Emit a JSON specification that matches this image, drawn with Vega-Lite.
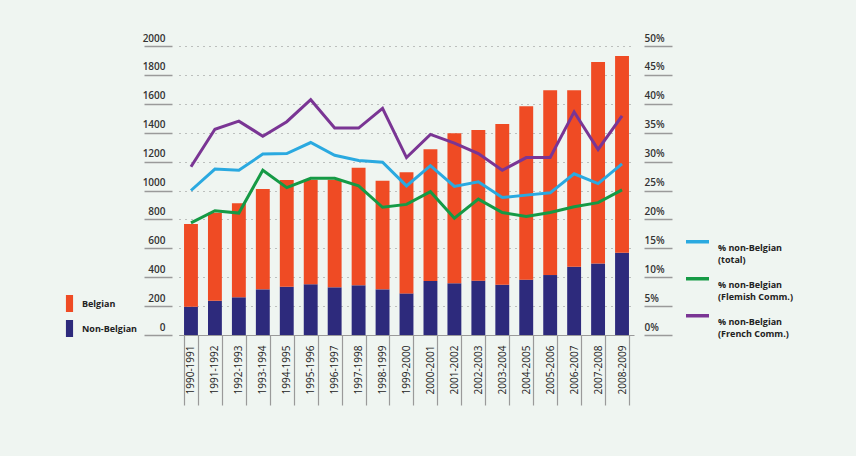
{
  "$schema": "https://vega.github.io/schema/vega-lite/v6.json",
  "width": 455,
  "height": 289,
  "autosize": {"type": "none"},
  "padding": {"left": 179, "right": 222, "top": 46, "bottom": 121},
  "background": "#eff5f1",
  "config": {
    "view": {"stroke": null},
    "font": "Open Sans",
    "axis": {"labelFont": "Open Sans", "labelColor": "#333333", "labelFontWeight": 600, "labelFontSize": 10},
    "legend": {"labelFont": "Open Sans", "labelColor": "#222222", "labelFontWeight": 700, "labelFontSize": 9, "padding": 0}
  },
  "datasets": {
    "bars": [
      {"period": "1990-1991", "nat": "Non-Belgian", "count": 196}, {"period": "1990-1991", "nat": "Belgian", "count": 572},
      {"period": "1991-1992", "nat": "Non-Belgian", "count": 237}, {"period": "1991-1992", "nat": "Belgian", "count": 609},
      {"period": "1992-1993", "nat": "Non-Belgian", "count": 261}, {"period": "1992-1993", "nat": "Belgian", "count": 650},
      {"period": "1993-1994", "nat": "Non-Belgian", "count": 316}, {"period": "1993-1994", "nat": "Belgian", "count": 694},
      {"period": "1994-1995", "nat": "Non-Belgian", "count": 334}, {"period": "1994-1995", "nat": "Belgian", "count": 739},
      {"period": "1995-1996", "nat": "Non-Belgian", "count": 351}, {"period": "1995-1996", "nat": "Belgian", "count": 724},
      {"period": "1996-1997", "nat": "Non-Belgian", "count": 330}, {"period": "1996-1997", "nat": "Belgian", "count": 745},
      {"period": "1997-1998", "nat": "Non-Belgian", "count": 344}, {"period": "1997-1998", "nat": "Belgian", "count": 814},
      {"period": "1998-1999", "nat": "Non-Belgian", "count": 316}, {"period": "1998-1999", "nat": "Belgian", "count": 752},
      {"period": "1999-2000", "nat": "Non-Belgian", "count": 288}, {"period": "1999-2000", "nat": "Belgian", "count": 838},
      {"period": "2000-2001", "nat": "Non-Belgian", "count": 374}, {"period": "2000-2001", "nat": "Belgian", "count": 911},
      {"period": "2001-2002", "nat": "Non-Belgian", "count": 358}, {"period": "2001-2002", "nat": "Belgian", "count": 1038},
      {"period": "2002-2003", "nat": "Non-Belgian", "count": 376}, {"period": "2002-2003", "nat": "Belgian", "count": 1043},
      {"period": "2003-2004", "nat": "Non-Belgian", "count": 348}, {"period": "2003-2004", "nat": "Belgian", "count": 1112},
      {"period": "2004-2005", "nat": "Non-Belgian", "count": 383}, {"period": "2004-2005", "nat": "Belgian", "count": 1200},
      {"period": "2005-2006", "nat": "Non-Belgian", "count": 415}, {"period": "2005-2006", "nat": "Belgian", "count": 1278},
      {"period": "2006-2007", "nat": "Non-Belgian", "count": 473}, {"period": "2006-2007", "nat": "Belgian", "count": 1220},
      {"period": "2007-2008", "nat": "Non-Belgian", "count": 494}, {"period": "2007-2008", "nat": "Belgian", "count": 1395},
      {"period": "2008-2009", "nat": "Non-Belgian", "count": 570}, {"period": "2008-2009", "nat": "Belgian", "count": 1361}
    ],
    "lines": [
      {"period": "1990-1991", "series": "total", "pct": 0.250}, {"period": "1990-1991", "series": "flemish", "pct": 0.194}, {"period": "1990-1991", "series": "french", "pct": 0.291},
      {"period": "1991-1992", "series": "total", "pct": 0.287}, {"period": "1991-1992", "series": "flemish", "pct": 0.215}, {"period": "1991-1992", "series": "french", "pct": 0.356},
      {"period": "1992-1993", "series": "total", "pct": 0.285}, {"period": "1992-1993", "series": "flemish", "pct": 0.211}, {"period": "1992-1993", "series": "french", "pct": 0.370},
      {"period": "1993-1994", "series": "total", "pct": 0.313}, {"period": "1993-1994", "series": "flemish", "pct": 0.285}, {"period": "1993-1994", "series": "french", "pct": 0.344},
      {"period": "1994-1995", "series": "total", "pct": 0.314}, {"period": "1994-1995", "series": "flemish", "pct": 0.255}, {"period": "1994-1995", "series": "french", "pct": 0.369},
      {"period": "1995-1996", "series": "total", "pct": 0.333}, {"period": "1995-1996", "series": "flemish", "pct": 0.271}, {"period": "1995-1996", "series": "french", "pct": 0.407},
      {"period": "1996-1997", "series": "total", "pct": 0.311}, {"period": "1996-1997", "series": "flemish", "pct": 0.271}, {"period": "1996-1997", "series": "french", "pct": 0.358},
      {"period": "1997-1998", "series": "total", "pct": 0.302}, {"period": "1997-1998", "series": "flemish", "pct": 0.258}, {"period": "1997-1998", "series": "french", "pct": 0.358},
      {"period": "1998-1999", "series": "total", "pct": 0.299}, {"period": "1998-1999", "series": "flemish", "pct": 0.221}, {"period": "1998-1999", "series": "french", "pct": 0.392},
      {"period": "1999-2000", "series": "total", "pct": 0.258}, {"period": "1999-2000", "series": "flemish", "pct": 0.226}, {"period": "1999-2000", "series": "french", "pct": 0.307},
      {"period": "2000-2001", "series": "total", "pct": 0.293}, {"period": "2000-2001", "series": "flemish", "pct": 0.248}, {"period": "2000-2001", "series": "french", "pct": 0.347},
      {"period": "2001-2002", "series": "total", "pct": 0.257}, {"period": "2001-2002", "series": "flemish", "pct": 0.202}, {"period": "2001-2002", "series": "french", "pct": 0.332},
      {"period": "2002-2003", "series": "total", "pct": 0.265}, {"period": "2002-2003", "series": "flemish", "pct": 0.235}, {"period": "2002-2003", "series": "french", "pct": 0.314},
      {"period": "2003-2004", "series": "total", "pct": 0.238}, {"period": "2003-2004", "series": "flemish", "pct": 0.212}, {"period": "2003-2004", "series": "french", "pct": 0.285},
      {"period": "2004-2005", "series": "total", "pct": 0.242}, {"period": "2004-2005", "series": "flemish", "pct": 0.205}, {"period": "2004-2005", "series": "french", "pct": 0.307},
      {"period": "2005-2006", "series": "total", "pct": 0.246}, {"period": "2005-2006", "series": "flemish", "pct": 0.212}, {"period": "2005-2006", "series": "french", "pct": 0.307},
      {"period": "2006-2007", "series": "total", "pct": 0.279}, {"period": "2006-2007", "series": "flemish", "pct": 0.222}, {"period": "2006-2007", "series": "french", "pct": 0.386},
      {"period": "2007-2008", "series": "total", "pct": 0.262}, {"period": "2007-2008", "series": "flemish", "pct": 0.229}, {"period": "2007-2008", "series": "french", "pct": 0.321},
      {"period": "2008-2009", "series": "total", "pct": 0.296}, {"period": "2008-2009", "series": "flemish", "pct": 0.251}, {"period": "2008-2009", "series": "french", "pct": 0.379}
    ]
  },
  "encoding": {
    "x": {
      "field": "period", "type": "nominal",
      "scale": {"paddingInner": 0.42, "paddingOuter": 0.21},
      "axis": {
        "title": null, "labelAngle": -90, "tickBand": "extent", "tickSize": 70, "tickColor": "#9a9a9a", "tickWidth": 1.2,
        "domainColor": "#9a9a9a", "domainWidth": 1.2, "labelPadding": -60, "labelFontWeight": 400, "labelColor": "#222222", "labelFontSize": 10
      }
    }
  },
  "layer": [
    {
      "data": {"name": "bars"},
      "mark": {"type": "bar"},
      "encoding": {
        "y": {
          "field": "count", "type": "quantitative", "stack": "zero",
          "scale": {"domain": [0, 2000], "nice": false},
          "axis": {
            "title": null, "format": "d", "values": [0, 200, 400, 600, 800, 1000, 1200, 1400, 1600, 1800, 2000],
            "orient": "left", "offset": 7, "tickSize": 28, "tickColor": "#9a9a9a", "tickWidth": 1.5,
            "labelPadding": -21, "labelAlign": "right", "labelBaseline": "bottom", "labelOffset": -3,
            "domain": false, "grid": true, "gridColor": "#8a8a8a", "gridDash": [1, 5], "gridWidth": 1.2
          }
        },
        "color": {
          "field": "nat", "type": "nominal",
          "scale": {"domain": ["Belgian", "Non-Belgian"], "range": ["#ef4b24", "#2d2a7c"]},
          "legend": {
            "title": null, "orient": "none", "legendX": -118, "legendY": 249,
            "symbolType": "M-0.42,-1H0.42V1H-0.42Z", "symbolSize": 289, "symbolStrokeWidth": 0,
            "rowPadding": 8, "labelOffset": 4
          }
        },
        "order": {"field": "nat", "sort": "descending"}
      }
    },
    {
      "data": {"name": "lines"},
      "mark": {"type": "line", "strokeWidth": 3},
      "encoding": {
        "y": {
          "field": "pct", "type": "quantitative",
          "scale": {"domain": [0, 0.5], "nice": false},
          "axis": {
            "title": null, "orient": "right", "format": ".0%", "values": [0, 0.05, 0.1, 0.15, 0.2, 0.25, 0.3, 0.35, 0.4, 0.45, 0.5],
            "offset": 10, "tickSize": 28, "tickColor": "#9a9a9a", "tickWidth": 1.5,
            "labelPadding": -28, "labelAlign": "left", "labelBaseline": "bottom", "labelOffset": -3,
            "domain": false, "grid": false
          }
        },
        "color": {
          "field": "series", "type": "nominal",
          "scale": {"domain": ["total", "flemish", "french"], "range": ["#2aa9e0", "#159a45", "#7a3594"]},
          "legend": {
            "title": null, "orient": "none", "legendX": 505, "legendY": 188,
            "symbolType": "M-1,-0.5H1", "symbolSize": 529, "symbolStrokeWidth": 3.5,
            "rowPadding": 6, "labelOffset": 7, "labelBaseline": "middle",
            "encode": {"labels": {"update": {"lineHeight": {"value": 12.5}}}},
            "labelExpr": "datum.label == 'total' ? ['% non-Belgian', '(total)'] : datum.label == 'flemish' ? ['% non-Belgian', '(Flemish Comm.)'] : ['% non-Belgian', '(French Comm.)']"
          }
        }
      }
    }
  ],
  "resolve": {"scale": {"y": "independent", "color": "independent"}}
}
